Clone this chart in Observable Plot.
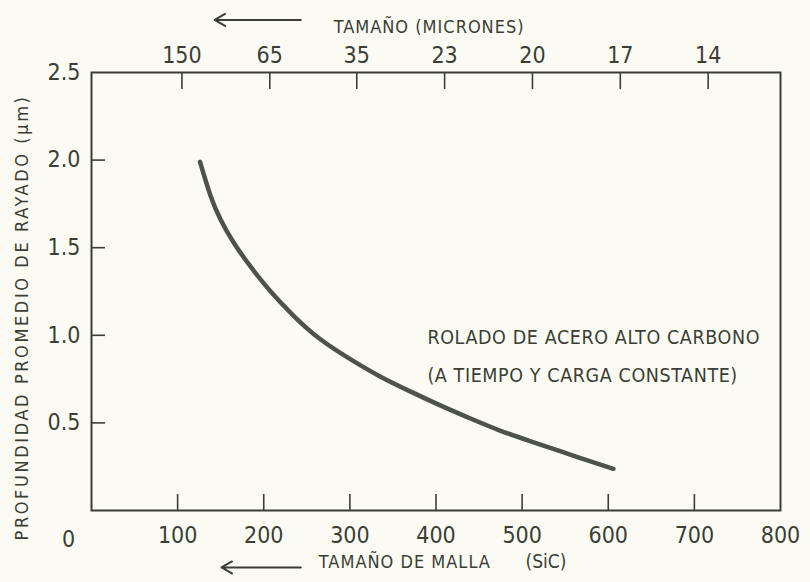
<!DOCTYPE html>
<html><head><meta charset="utf-8">
<script src="https://cdn.jsdelivr.net/npm/d3@7"></script>
<script src="https://cdn.jsdelivr.net/npm/@observablehq/plot@0.6"></script>
<style>
html,body{margin:0;padding:0;background:#fbfbf4;}
svg text{font-stretch:condensed;}
</style></head><body><div id="chart"></div>
<script>
// Curve: mesh size (SiC) vs mean scratch depth (µm)
const meshSize = [126, 138, 150, 165, 185, 208, 235, 265, 300, 335, 370, 405, 440, 475, 510, 545, 575, 606];
const depth    = [1.99, 1.80, 1.66, 1.53, 1.39, 1.25, 1.11, 0.98, 0.865, 0.765, 0.68, 0.60, 0.525, 0.455, 0.395, 0.337, 0.287, 0.238];

const bottomTicks = [100, 200, 300, 400, 500, 600, 700];
const bottomLabels = [100, 200, 300, 400, 500, 600, 700, 800];
const topTickPositions = [105, 207, 308, 410, 512, 614, 716];
const topTickLabels = ["150", "65", "35", "23", "20", "17", "14"];
const yTicks = [0.5, 1.0, 1.5, 2.0, 2.5];

const annotation = "ROLADO DE ACERO ALTO CARBONO\n(A TIEMPO Y CARGA CONSTANTE)";
const yTitle = "PROFUNDIDAD PROMEDIO DE RAYADO (\u03BCm)";
const topTitle = "TAMAÑO (MICRONES)";
const bottomTitle = "TAMAÑO DE MALLA";
const bottomTitle2 = "(SiC)";

const ink = "#3a3e35";
const font = "'DejaVu Sans', sans-serif";

const data = meshSize.map((m, i) => ({m, d: depth[i]}));
const topLabel = d => topTickLabels[topTickPositions.indexOf(d)];

const chart = Plot.plot({
  width: 810,
  height: 582,
  marginLeft: 91,
  marginRight: 30,
  marginTop: 72,
  marginBottom: 72,
  style: {background: "#fbfbf4", color: ink, fontFamily: font, fontSize: "22px"},
  x: {domain: [0, 800], label: null},
  y: {domain: [0, 2.5], label: null},
  marks: [
    Plot.frame({stroke: ink, strokeWidth: 2}),
    // bottom axis
    Plot.axisX(bottomTicks, {anchor: "bottom", label: null, tickSize: -16, tickFormat: () => "", strokeWidth: 1.6, stroke: ink}),
    Plot.axisX(bottomLabels, {anchor: "bottom", label: null, tickSize: 0, tickPadding: 16, fontSize: 23, fill: ink}),
    // top axis
    Plot.axisX(topTickPositions, {anchor: "top", label: null, tickSize: -16, tickFormat: () => "", strokeWidth: 1.6, stroke: ink}),
    Plot.axisX(topTickPositions, {anchor: "top", label: null, tickSize: 0, tickPadding: 10, tickFormat: topLabel, fontSize: 23, fill: ink}),
    // left axis
    Plot.axisY(yTicks.slice(0, 4), {anchor: "left", label: null, tickSize: -14, tickFormat: () => "", strokeWidth: 1.6, stroke: ink}),
    Plot.axisY(yTicks, {anchor: "left", label: null, tickSize: 0, tickPadding: 11, tickFormat: d3.format(".1f"), fontSize: 23, fill: ink}),
    Plot.text(["0"], {x: 0, y: 0, dx: -23, dy: 29, fontSize: 23, fill: ink}),
    // curve
    Plot.line(data, {x: "m", y: "d", curve: "natural", stroke: "#4e534a", strokeWidth: 4.5, strokeLinecap: "round"}),
    // annotation
    Plot.text([annotation], {x: 390, y: 0.91, textAnchor: "start", lineHeight: 1.95, fontSize: 19.5, fill: ink}),
    // titles
    Plot.text([yTitle], {frameAnchor: "left", textAnchor: "middle", rotate: -90, dx: -69, dy: 26, fontSize: 18, fill: ink}),
    Plot.text([topTitle], {x: 392, frameAnchor: "top", dy: -52, fontSize: 18, fill: ink}),
    Plot.arrow([0], {x1: 243, x2: 143, y1: 2.8, y2: 2.8, stroke: ink, strokeWidth: 2, headLength: 9, clip: false}),
    Plot.text([bottomTitle], {x: 264, frameAnchor: "bottom", dy: 57, textAnchor: "start", fontSize: 18, fill: ink}),
    Plot.text([bottomTitle2], {x: 504, frameAnchor: "bottom", dy: 57, textAnchor: "start", fontSize: 19, fill: ink}),
    Plot.arrow([0], {x1: 243, x2: 151, y1: -0.325, y2: -0.325, stroke: ink, strokeWidth: 2, headLength: 9, clip: false})
  ]
});
// letter spacing tweaks to match the wide plotter lettering
d3.select(chart).selectAll("text").each(function() {
  const t = this.textContent;
  if (t === yTitle) this.style.letterSpacing = "2.6px";
  if (t === topTitle || t === bottomTitle) this.style.letterSpacing = "1px";
  if (t.startsWith("ROLADO") || t.startsWith("(A TIEMPO")) this.style.letterSpacing = "0.6px";
});
document.getElementById("chart").appendChild(chart);
</script>
</body></html>
